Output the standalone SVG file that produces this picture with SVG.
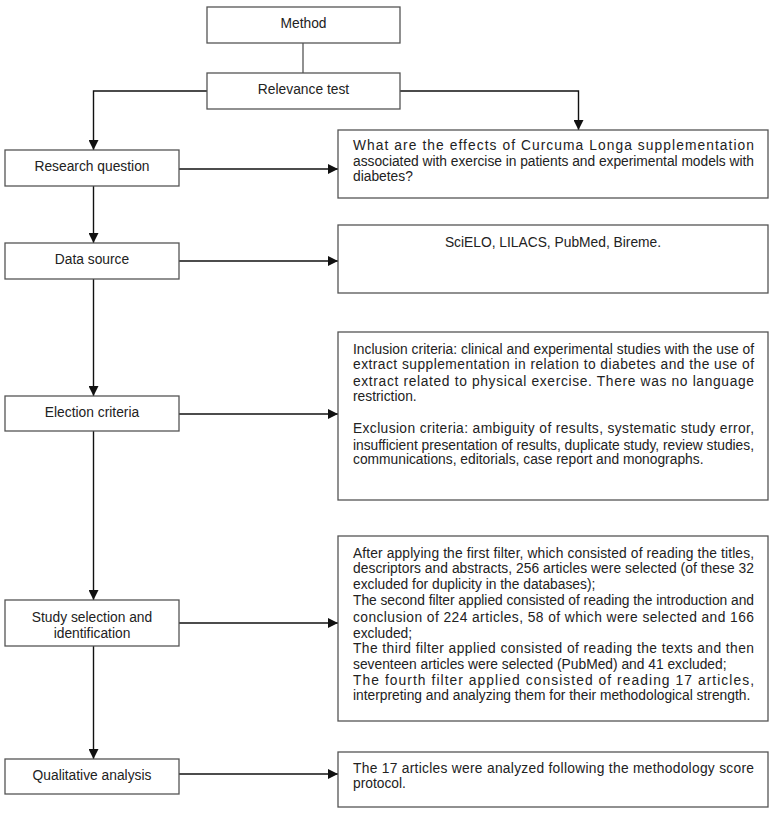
<svg xmlns="http://www.w3.org/2000/svg" width="774" height="815" viewBox="0 0 774 815">
<style>
.box{fill:#fff;stroke:#555;stroke-width:1.3}
.t{font-family:"Liberation Sans",Arial,sans-serif;font-size:13.8px;fill:#222}
.c{text-anchor:middle}
.ln{fill:none;stroke:#111;stroke-width:1.4}
.lg{fill:none;stroke:#555;stroke-width:1.3}
</style>
<defs>
<marker id="ah" viewBox="0 0 10 10" refX="10" refY="5" markerWidth="10" markerHeight="10" markerUnits="userSpaceOnUse" orient="auto">
<path d="M0,0 L10,5 L0,10 z" fill="#111"/>
</marker>
</defs>
<rect width="774" height="815" fill="#fff"/>
<g id="connectors">
<line class="lg" x1="303" y1="43" x2="303" y2="73"/>
<polyline class="ln" points="207,91 93.5,91 93.5,150" marker-end="url(#ah)"/>
<polyline class="ln" points="400,91 578.5,91 578.5,130" marker-end="url(#ah)"/>
<line class="ln" x1="93.5" y1="186" x2="93.5" y2="243" marker-end="url(#ah)"/>
<line class="ln" x1="93.5" y1="279" x2="93.5" y2="396" marker-end="url(#ah)"/>
<line class="ln" x1="93.5" y1="431" x2="93.5" y2="600" marker-end="url(#ah)"/>
<line class="ln" x1="93.5" y1="646" x2="93.5" y2="759" marker-end="url(#ah)"/>
<line class="ln" x1="179" y1="169" x2="338" y2="169" marker-end="url(#ah)"/>
<line class="ln" x1="179" y1="261" x2="338" y2="261" marker-end="url(#ah)"/>
<line class="ln" x1="179" y1="414" x2="338" y2="414" marker-end="url(#ah)"/>
<line class="ln" x1="179" y1="623" x2="338" y2="623" marker-end="url(#ah)"/>
<line class="ln" x1="179" y1="774" x2="338" y2="774" marker-end="url(#ah)"/>
</g>
<g id="method">
<rect class="box" x="207" y="7" width="193" height="36"/>
<text class="t c" x="303.5" y="28">Method</text>
</g>
<g id="relevance">
<rect class="box" x="207" y="73" width="193" height="36"/>
<text class="t c" x="303.5" y="94">Relevance test</text>
</g>
<g id="research-question">
<rect class="box" x="5" y="150" width="174" height="36"/>
<text class="t c" x="92" y="171">Research question</text>
</g>
<g id="question-detail">
<rect class="box" x="338" y="130" width="430" height="68"/>
<text class="t" x="353" y="150" textLength="401" lengthAdjust="spacing">What are the effects of Curcuma Longa supplementation</text>
<text class="t" x="353" y="166" textLength="401" lengthAdjust="spacing">associated with exercise in patients and experimental models with</text>
<text class="t" x="353" y="181">diabetes?</text>
</g>
<g id="data-source">
<rect class="box" x="5" y="243" width="174" height="36"/>
<text class="t c" x="92" y="264">Data source</text>
</g>
<g id="data-source-detail">
<rect class="box" x="338" y="225" width="430" height="68"/>
<text class="t c" x="553" y="247">SciELO, LILACS, PubMed, Bireme.</text>
</g>
<g id="election">
<rect class="box" x="5" y="396" width="174" height="35"/>
<text class="t c" x="92" y="417">Election criteria</text>
</g>
<g id="election-detail">
<rect class="box" x="338" y="332" width="430" height="168"/>
<text class="t" x="353" y="354" textLength="401" lengthAdjust="spacing">Inclusion criteria: clinical and experimental studies with the use of</text>
<text class="t" x="353" y="369" textLength="401" lengthAdjust="spacing">extract supplementation in relation to diabetes and the use of</text>
<text class="t" x="353" y="386" textLength="401" lengthAdjust="spacing">extract related to physical exercise. There was no language</text>
<text class="t" x="353" y="401">restriction.</text>
<text class="t" x="353" y="433" textLength="401" lengthAdjust="spacing">Exclusion criteria: ambiguity of results, systematic study error,</text>
<text class="t" x="353" y="450" textLength="401" lengthAdjust="spacing">insufficient presentation of results, duplicate study, review studies,</text>
<text class="t" x="353" y="464">communications, editorials, case report and monographs.</text>
</g>
<g id="study-selection">
<rect class="box" x="5" y="600" width="174" height="46"/>
<text class="t c" x="92" y="622">Study selection and</text>
<text class="t c" x="92" y="638">identification</text>
</g>
<g id="study-selection-detail">
<rect class="box" x="338" y="536" width="430" height="185"/>
<text class="t" x="353" y="558" textLength="401" lengthAdjust="spacing">After applying the first filter, which consisted of reading the titles,</text>
<text class="t" x="353" y="573" textLength="401" lengthAdjust="spacing">descriptors and abstracts, 256 articles were selected (of these 32</text>
<text class="t" x="353" y="589">excluded for duplicity in the databases);</text>
<text class="t" x="353" y="605" textLength="401" lengthAdjust="spacing">The second filter applied consisted of reading the introduction and</text>
<text class="t" x="353" y="622" textLength="401" lengthAdjust="spacing">conclusion of 224 articles, 58 of which were selected and 166</text>
<text class="t" x="353" y="638">excluded;</text>
<text class="t" x="353" y="653" textLength="401" lengthAdjust="spacing">The third filter applied consisted of reading the texts and then</text>
<text class="t" x="353" y="669">seventeen articles were selected (PubMed) and 41 excluded;</text>
<text class="t" x="353" y="685" textLength="401" lengthAdjust="spacing">The fourth filter applied consisted of reading 17 articles,</text>
<text class="t" x="353" y="700">interpreting and analyzing them for their methodological strength.</text>
</g>
<g id="qualitative">
<rect class="box" x="5" y="759" width="174" height="35"/>
<text class="t c" x="92" y="780">Qualitative analysis</text>
</g>
<g id="qualitative-detail">
<rect class="box" x="338" y="752" width="430" height="55"/>
<text class="t" x="353" y="773" textLength="401" lengthAdjust="spacing">The 17 articles were analyzed following the methodology score</text>
<text class="t" x="353" y="788">protocol.</text>
</g>
</svg>
